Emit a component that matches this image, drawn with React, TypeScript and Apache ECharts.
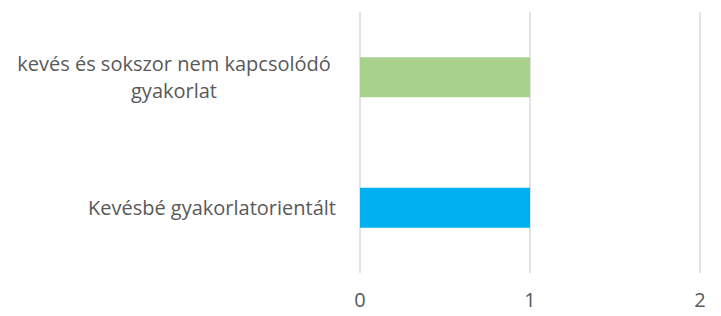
import React, { useEffect, useRef } from "react";
import * as echarts from "echarts";

const categories = ["Kevésbé gyakorlatorientált", "kevés és sokszor nem kapcsolódó gyakorlat"];
const values = [1, 1];
const colors = ["#00B0F0", "#A9D18E"];
const xTicks = [0, 1, 2];

export default function App() {
  const ref = useRef<HTMLDivElement>(null);
  useEffect(() => {
    if (!ref.current) return;
    const chart = echarts.init(ref.current, undefined, { renderer: "svg" });
    const font = "'Open Sans', Lato, sans-serif";
    const fs = 20;
    chart.setOption({
      animation: false,
      grid: { left: 360, right: 21, top: 12, bottom: 43, containLabel: false },
      xAxis: {
        type: "value",
        min: xTicks[0],
        max: xTicks[xTicks.length - 1],
        interval: 1,
        axisLine: { show: false },
        axisTick: { show: false },
        splitLine: { show: true, lineStyle: { color: "#D9D9D9", width: 1.5 } },
        axisLabel: { color: "#595959", fontSize: fs, fontFamily: font, margin: 16 },
      },
      yAxis: {
        type: "category",
        data: categories,
        axisLine: { show: false },
        axisTick: { show: false },
        axisLabel: {
          color: "#595959",
          fontSize: fs,
          fontFamily: font,
          margin: 24,
          lineHeight: 27,
          formatter: (v: string) => {
            if (v === categories[1]) {
              return "{c|kevés és sokszor nem kapcsolódó}\n{c|gyakorlat}";
            }
            return v;
          },
          rich: {
            c: { width: 324, align: "center", color: "#595959", fontSize: fs, fontFamily: font, lineHeight: 27 },
          },
        },
      },
      series: [
        {
          type: "bar",
          barWidth: 40,
          data: values.map((v, i) => ({ value: v, itemStyle: { color: colors[i] } })),
        },
      ],
    });
    return () => chart.dispose();
  }, []);
  return <div ref={ref} style={{ position: "absolute", left: 0, top: 0, width: 721, height: 316 }} />;
}
